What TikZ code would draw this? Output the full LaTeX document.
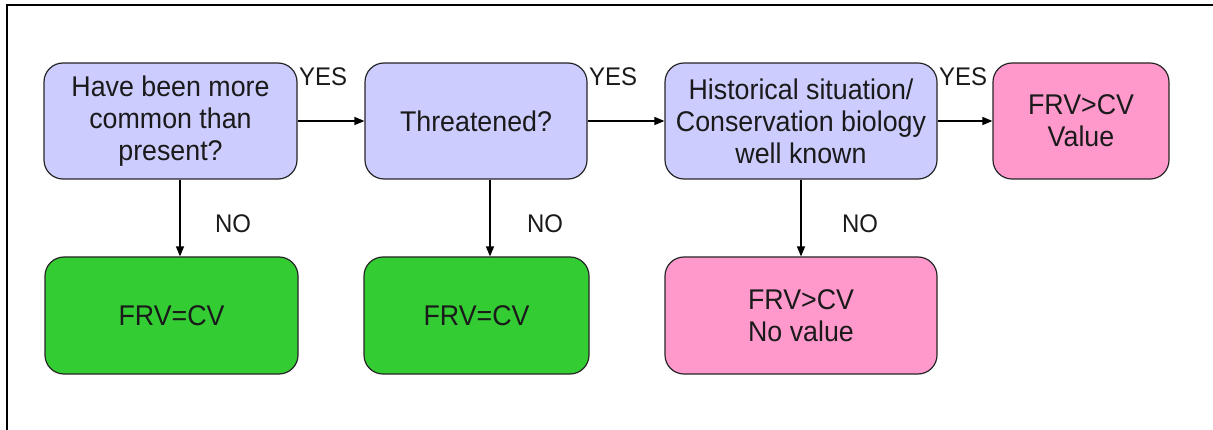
\documentclass[tikz,border=0pt]{standalone}
\usepackage{fontspec}
\setmainfont{Liberation Sans}[FakeStretch=0.94]
\usetikzlibrary{arrows.meta}
\definecolor{lav}{HTML}{CCCCFF}
\definecolor{grn}{HTML}{33CC33}
\definecolor{pnk}{HTML}{FF99CC}
\definecolor{ink}{HTML}{1A1A1A}
\tikzset{
  box/.style={draw=black!85, line width=1.2pt, rounded corners=19pt, align=center,
    font=\fontsize{28.5}{32}\selectfont, text=ink, minimum height=116pt, inner sep=2pt},
  qbox/.style={box, fill=lav},
  gbox/.style={box, fill=grn},
  pbox/.style={box, fill=pnk},
  lab/.style={font=\fontsize{25.5}{29}\selectfont, text=ink, inner sep=0pt},
  arr/.style={line width=1.3pt, -{Triangle[length=10pt,width=8pt]}},
  frame/.style={line width=2.6pt}
}
\begin{document}
\begin{tikzpicture}[x=1pt,y=-1pt]
\useasboundingbox (0,0) rectangle (1213,430);
\draw[frame] (7,430) -- (7,5) -- (1213,5);

\node[qbox, minimum width=253pt] (b1) at (170.5,121) {Have been more\\common than\\present?};
\node[qbox, minimum width=222pt] (b2) at (476,121) {Threatened?};
\node[qbox, minimum width=272pt] (b3) at (801,121) {Historical situation/\\Conservation biology\\well known};
\node[pbox, minimum width=176pt] (b4) at (1081,121) {FRV>CV\\Value};

\node[gbox, minimum width=253pt, minimum height=117pt] (b5) at (171.5,315.5) {FRV=CV};
\node[gbox, minimum width=225pt, minimum height=117pt] (b6) at (476.5,315.5) {FRV=CV};
\node[pbox, minimum width=272pt, minimum height=117pt] (b7) at (801,315.5) {FRV>CV\\No value};

\draw[arr] (b1) -- (b2);
\draw[arr] (b2) -- (b3);
\draw[arr] (b3) -- (b4);

\draw[arr] ([xshift=9.5pt]b1.south) -- ([xshift=9.5pt]b1.south |- b5.north);
\draw[arr] ([xshift=14pt]b2.south) -- ([xshift=14pt]b2.south |- b6.north);
\draw[arr] (b3.south) -- (b3.south |- b7.north);

\node[lab, anchor=west] (y1) at (299,77) {YES};
\node[lab, anchor=west] (y2) at (589,77) {YES};
\node[lab, anchor=west] (y3) at (939,77) {YES};

\node[lab] (n1) at (233,224) {NO};
\node[lab] (n2) at (545,224) {NO};
\node[lab] (n3) at (860,224) {NO};
\end{tikzpicture}
\end{document}
